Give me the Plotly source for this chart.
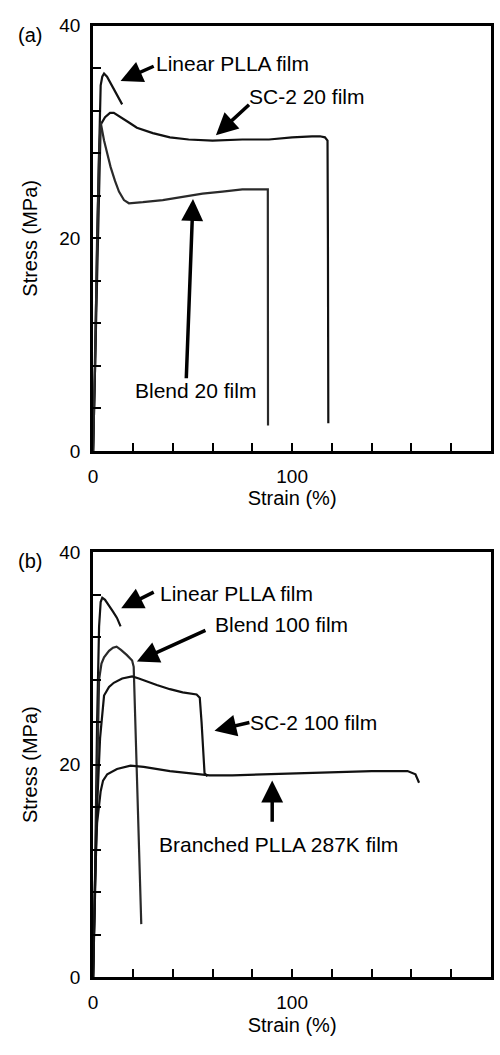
import plotly.graph_objects as go

# ---------------- data (panel a) ----------------
a_linear_strain = [0, 1.0, 2.0, 3.0, 3.8, 4.6, 5.5, 7.0, 9.0, 11.0, 13.0, 14.6]
a_linear_stress = [0, 8.0, 20.0, 30.0, 34.4, 35.2, 35.5, 35.2, 34.5, 33.8, 33.2, 32.6]

a_sc2_strain = [0, 1.0, 2.0, 3.0, 3.8, 6.0, 8.5, 10.4, 14.0, 18.0, 22.0, 30.0, 38.6, 48.0, 60.0, 75.0, 88.4, 100.0, 110.0, 114.0, 116.5, 117.8, 118.0, 118.2]
a_sc2_stress = [0, 8.0, 18.0, 27.0, 30.7, 31.4, 31.8, 31.8, 31.4, 30.9, 30.4, 29.9, 29.5, 29.3, 29.2, 29.3, 29.3, 29.5, 29.6, 29.6, 29.5, 29.2, 20.0, 2.6]

a_blend_strain = [0, 1.0, 2.0, 3.0, 3.8, 5.5, 7.0, 8.8, 11.0, 13.0, 15.5, 18.0, 25.0, 35.0, 45.0, 55.0, 65.0, 75.0, 85.0, 87.8, 87.9]
a_blend_stress = [0, 8.0, 19.0, 28.0, 30.9, 29.2, 28.0, 26.7, 25.4, 24.4, 23.6, 23.3, 23.4, 23.6, 23.9, 24.2, 24.4, 24.6, 24.6, 24.6, 2.4]

# ---------------- data (panel b) ----------------
b_linear_strain = [0, 1.0, 2.0, 3.0, 3.8, 4.6, 6.0, 8.0, 10.0, 12.0, 13.8]
b_linear_stress = [0, 10.0, 24.0, 33.0, 35.3, 35.7, 35.5, 35.0, 34.4, 33.8, 33.0]

b_blend_strain = [0, 1.0, 2.0, 3.0, 4.2, 5.5, 8.0, 10.0, 11.8, 14.0, 17.0, 19.6, 20.4, 22.0, 24.2]
b_blend_stress = [0, 9.0, 20.0, 28.0, 29.5, 30.1, 30.7, 31.0, 31.1, 30.8, 30.3, 29.8, 29.2, 19.0, 5.0]

b_sc2_strain = [0, 1.0, 2.0, 3.5, 5.5, 8.0, 10.4, 14.6, 19.6, 23.0, 27.0, 32.0, 38.6, 45.0, 52.0, 53.6, 54.5, 56.0, 57.5]
b_sc2_stress = [0, 8.0, 16.0, 22.5, 26.5, 27.3, 27.7, 28.1, 28.3, 28.1, 27.8, 27.5, 27.1, 26.8, 26.6, 26.3, 24.0, 19.2, 18.9]

b_branched_strain = [0, 0.6, 1.2, 2.0, 3.0, 3.8, 5.0, 7.1, 12.0, 18.8, 25.4, 32.0, 38.6, 48.0, 58.5, 70.0, 88.4, 105.0, 121.6, 140.0, 158.0, 162.0, 163.8]
b_branched_stress = [0, 6.0, 11.0, 14.5, 16.5, 17.5, 18.5, 19.1, 19.6, 19.9, 19.8, 19.6, 19.4, 19.2, 19.0, 19.0, 19.1, 19.2, 19.3, 19.4, 19.4, 19.1, 18.3]

x_tick_vals = [0, 100, 200]
y_tick_vals = [0, 20, 40]

FONT = "Liberation Sans, Arial, sans-serif"
LINE_COLOR = "#111111"

fig = go.Figure()

def add_curve(xs, ys, xa, ya, color=LINE_COLOR):
    fig.add_trace(go.Scatter(x=xs, y=ys, mode="lines", xaxis=xa, yaxis=ya,
                             line=dict(color=color, width=2.2), showlegend=False,
                             hoverinfo="skip"))

add_curve(a_linear_strain, a_linear_stress, "x", "y")
add_curve(a_sc2_strain, a_sc2_stress, "x", "y")
add_curve(a_blend_strain, a_blend_stress, "x", "y", "#2a2a2a")
add_curve(b_linear_strain, b_linear_stress, "x2", "y2")
add_curve(b_blend_strain, b_blend_stress, "x2", "y2", "#2a2a2a")
add_curve(b_sc2_strain, b_sc2_stress, "x2", "y2")
add_curve(b_branched_strain, b_branched_stress, "x2", "y2")

def xaxis_cfg(anchor):
    return dict(domain=[0.178, 0.982], range=[0, 200], anchor=anchor,
                tickmode="array", tickvals=x_tick_vals, ticks="inside",
                ticklen=8, tickwidth=2, tickcolor="black",
                minor=dict(dtick=20, tick0=0, ticks="inside", ticklen=8, tickwidth=2, tickcolor="black"),
                showline=True, linecolor="black", linewidth=3, mirror=True,
                showgrid=False, zeroline=False,
                tickfont=dict(family=FONT, size=19, color="black"),
                ticklabelstandoff=6,
                title=dict(text="Strain (%)", font=dict(family=FONT, size=20, color="black"), standoff=6))

def yaxis_cfg(anchor, domain):
    return dict(domain=domain, range=[0, 40], anchor=anchor,
                tickmode="array", tickvals=y_tick_vals, ticks="inside",
                ticklen=8, tickwidth=2, tickcolor="black",
                minor=dict(dtick=4, tick0=0, ticks="inside", ticklen=8, tickwidth=2, tickcolor="black"),
                showline=True, linecolor="black", linewidth=3, mirror=True,
                showgrid=False, zeroline=False,
                tickfont=dict(family=FONT, size=19, color="black"),
                ticklabelstandoff=6,
                title=dict(text="Stress (MPa)", font=dict(family=FONT, size=20, color="black"), standoff=17))

fig.update_layout(
    width=500, height=1055,
    margin=dict(l=0, r=0, t=0, b=0),
    paper_bgcolor="white", plot_bgcolor="white",
    xaxis=xaxis_cfg("y"),
    yaxis=yaxis_cfg("x", [0.5735, 0.9848]),
    xaxis2=xaxis_cfg("y2"),
    yaxis2=yaxis_cfg("x2", [0.0645, 0.4758]),
    font=dict(family=FONT, color="black"),
)

# text labels
labels = [
    ("x", "y", 30.6, 36.4, "Linear PLLA film"),
    ("x", "y", 77.4, 33.3, "SC-2 20 film"),
    ("x", "y", 19.8, 5.7, "Blend 20 film"),
    ("x2", "y2", 32.6, 36.1, "Linear PLLA film"),
    ("x2", "y2", 60.0, 33.2, "Blend 100 film"),
    ("x2", "y2", 77.6, 24.0, "SC-2 100 film"),
    ("x2", "y2", 32.0, 12.5, "Branched PLLA 287K film"),
]
for xr, yr, x, y, t in labels:
    fig.add_annotation(xref=xr, yref=yr, x=x, y=y, text=t, showarrow=False,
                       xanchor="left", yanchor="middle",
                       font=dict(family=FONT, size=21, color="black"))

# arrows (head x,y ; tail ax,ay)
arrows = [
    ("x", "y", 13.8, 34.8, 31.2, 36.25),
    ("x", "y", 61.7, 29.7, 79.1, 32.7),
    ("x", "y", 50.2, 23.7, 46.8, 6.7),
    ("x2", "y2", 14.1, 34.7, 31.2, 36.3),
    ("x2", "y2", 22.0, 29.7, 57.2, 32.7),
    ("x2", "y2", 61.0, 23.2, 79.3, 24.0),
    ("x2", "y2", 90.0, 18.5, 90.0, 14.5),
]
for xr, yr, x, y, ax, ay in arrows:
    fig.add_annotation(xref=xr, yref=yr, x=x, y=y, axref=xr, ayref=yr, ax=ax, ay=ay,
                       text="", showarrow=True, arrowhead=2, arrowsize=1.25,
                       arrowwidth=3.5, arrowcolor="black", standoff=0)

fig.add_annotation(xref="paper", yref="paper", x=0.05, y=1 - 25 / 1055, text="(a)",
                   showarrow=False, xanchor="center", yanchor="middle",
                   font=dict(family=FONT, size=20, color="black"))
fig.add_annotation(xref="paper", yref="paper", x=0.05, y=1 - 562 / 1055, text="(b)",
                   showarrow=False, xanchor="center", yanchor="middle",
                   font=dict(family=FONT, size=20, color="black"))

fig.write_html("out.html")
